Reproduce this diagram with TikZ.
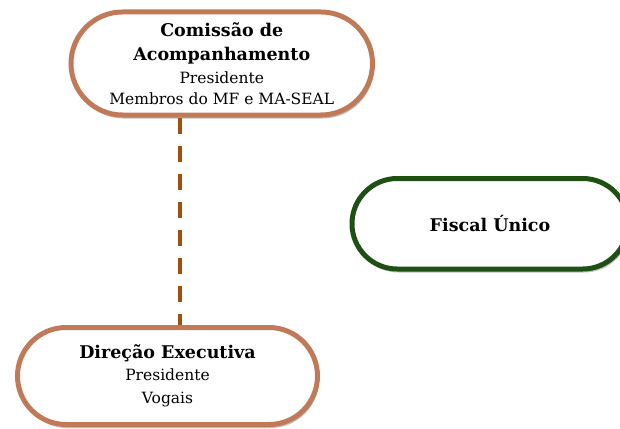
\documentclass[tikz,border=0pt]{standalone}
\usepackage{fontspec}
\setmainfont{DejaVu Serif}
\usetikzlibrary{shapes.misc,shadows}
\definecolor{boxbrown}{RGB}{192,122,88}
\definecolor{dashbrown}{RGB}{160,80,15}
\definecolor{boxgreen}{RGB}{30,80,20}
\newcommand\headtxt[1]{{\fontsize{17.5}{24}\selectfont\bfseries #1}}
\begin{document}
\begin{tikzpicture}[x=1pt,y=-1pt,
  pill/.style={rounded rectangle, draw, line width=5pt, fill=white, align=center,
    inner sep=0pt, font=\fontsize{15.5}{21}\selectfont,
    drop shadow={shadow xshift=1.5pt,shadow yshift=-3.5pt,opacity=0.25,fill=black}},
  link/.style={draw=dashbrown, line width=4.5pt, dash pattern=on 16pt off 12pt}]
\useasboundingbox (0,0) rectangle (620,428);
\node[pill, draw=boxbrown, minimum width=301.5pt, minimum height=103pt] (com) at (221.75,63.5)
  {\headtxt{Comissão de}\\[3pt]\headtxt{Acompanhamento}\\[2pt]Presidente\\Membros do MF e MA-SEAL};
\node[pill, draw=boxgreen, minimum width=276pt, minimum height=90.5pt] (fis) at (490,223.75)
  {\headtxt{Fiscal Único}};
\node[pill, draw=boxbrown, minimum width=300pt, minimum height=97pt] (dir) at (167.5,376)
  {\headtxt{Direção Executiva}\\[1pt]Presidente\\[2pt]Vogais};
\coordinate (lx) at (180,0);
\draw[link] (com.south -| lx) -- (dir.north -| lx);
\end{tikzpicture}
\end{document}
